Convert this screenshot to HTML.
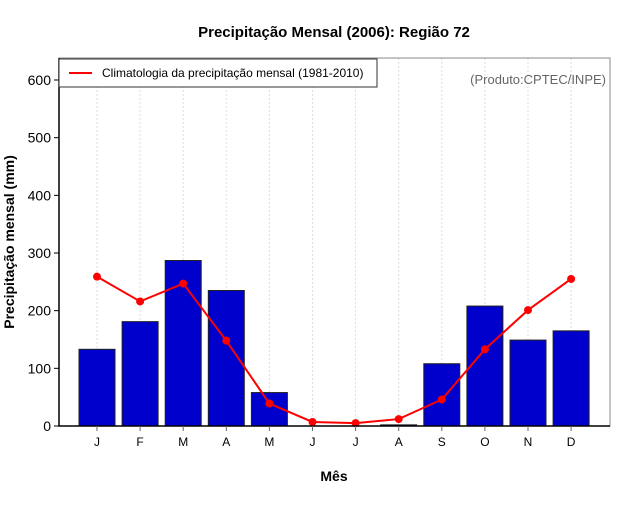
<!DOCTYPE html>
<html><head><meta charset="utf-8"><style>body{margin:0;background:#fff}svg{font-family:"Liberation Sans",sans-serif}</style></head>
<body>
<svg id="c" width="640" height="500">
<text x="334" y="37" text-anchor="middle" font-size="15" font-weight="bold">Precipitação Mensal (2006): Região 72</text>
<text x="334" y="481" text-anchor="middle" font-size="14" font-weight="bold">Mês</text>
<text transform="translate(14,242) rotate(-90)" text-anchor="middle" font-size="14" font-weight="bold">Precipitação mensal (mm)</text>
<g id="g"></g>
<rect x="59" y="59" width="318" height="28" fill="#fff" stroke="#333"/>
<line x1="69" y1="73" x2="92" y2="73" stroke="red" stroke-width="2"/>
<text x="102" y="77" font-size="12">Climatologia da precipitação mensal (1981-2010)</text>
<text x="606" y="84" text-anchor="end" font-size="13" fill="#666">(Produto:CPTEC/INPE)</text>
</svg>
<script>
const months=["J","F","M","A","M","J","J","A","S","O","N","D"];
const precip=[133,181,287,235,58,0,0,2,108,208,149,165];
const clim=[259,216,247,148,39,7,5,12,46,133,201,255];
const yTicks=[0,100,200,300,400,500,600];
const NS="http://www.w3.org/2000/svg",g=document.getElementById('g');
const L=59,R=610,T=58,B=426;
const x=i=>97+i*43.1, y=v=>B-v*346/600;
function mk(t,a){const e=document.createElementNS(NS,t);for(const k in a)e.setAttribute(k,a[k]);g.appendChild(e);return e;}
months.forEach((m,i)=>{
 const l=mk('line',{x1:x(i),x2:x(i),y1:T,y2:B,stroke:'#ddd','stroke-dasharray':'2,2'});
 
 
});
precip.forEach((v,i)=>{
 const r=mk('rect',{x:x(i)-18,y:y(v),width:36,height:B-y(v),fill:'#0000cc',stroke:'#222','stroke-width':1});
 
 
});
const p=mk('polyline',{points:clim.map((v,i)=>x(i)+','+y(v)).join(' '),fill:'none',stroke:'red','stroke-width':2});


clim.forEach((v,i)=>{
 const c=mk('circle',{cx:x(i),cy:y(v),r:4,fill:'red'});
 
 
});
const f=mk('path',{d:`M${L},${T}H${R}V${B}H${L}Z`,fill:'none',stroke:'#888'});


const ax=mk('path',{d:`M${L},${T}V${B}H${R}`,fill:'none',stroke:'#000','stroke-width':1.5});


yTicks.forEach(v=>{
 mk('line',{x1:L-5,x2:L,y1:y(v),y2:y(v),stroke:'#000'});
 const t=mk('text',{x:L-8,y:y(v)+5,'text-anchor':'end','font-size':14});
 t.textContent=v;
 
 
});
months.forEach((m,i)=>{
 mk('line',{x1:x(i),x2:x(i),y1:B,y2:B+5,stroke:'#666'});
 const t=mk('text',{x:x(i),y:B+20,'text-anchor':'middle','font-size':12});
 t.textContent=m;
 
 
});
</script>
</body></html>
